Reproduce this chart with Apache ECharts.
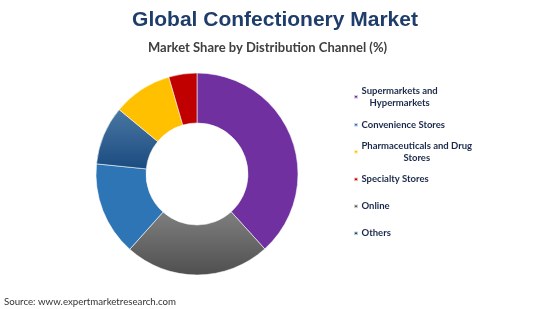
<!DOCTYPE html>
<html><head><meta charset="utf-8">
<script src="https://cdn.jsdelivr.net/npm/echarts@6/dist/echarts.min.js"></script>
<style>html,body{margin:0;padding:0;background:#fff}#c{width:550px;height:309px}</style>
</head><body><div id="c"></div>
<script>
// Slice order (clockwise from 12 o'clock)
const sliceNames = ['Supermarkets and Hypermarkets','Online','Convenience Stores','Others','Pharmaceuticals and Drug Stores','Specialty Stores'];
const sliceValues = [38.3, 23.3, 15.0, 9.4, 9.5, 4.5];
// Legend order
const legendNames = ['Supermarkets and Hypermarkets','Convenience Stores','Pharmaceuticals and Drug Stores','Specialty Stores','Online','Others'];
const legendLabels = {
  'Supermarkets and Hypermarkets': ['Supermarkets and','Hypermarkets'],
  'Convenience Stores': ['Convenience Stores'],
  'Pharmaceuticals and Drug Stores': ['Pharmaceuticals and Drug','Stores'],
  'Specialty Stores': ['Specialty Stores'],
  'Online': ['Online'],
  'Others': ['Others']
};
const titleText = 'Global Confectionery Market';
const subtitleText = 'Market Share by Distribution Channel (%)';
const sourceText = 'Source: www.expertmarketresearch.com';

function grad(top, bottom){
  return new echarts.graphic.LinearGradient(0,0,0,1,[{offset:0,color:top},{offset:1,color:bottom}]);
}
const colors = {
  'Supermarkets and Hypermarkets': '#7030a0',
  'Online': grad('#7f7f7f','#4f4f4f'),
  'Convenience Stores': '#2e75b6',
  'Others': grad('#4a77a3','#1a4b80'),
  'Pharmaceuticals and Drug Stores': '#ffc000',
  'Specialty Stores': '#c00000'
};
const legendSwatch = {
  'Supermarkets and Hypermarkets': '#7030a0',
  'Online': '#595959',
  'Convenience Stores': '#2e75b6',
  'Others': '#1f4e79',
  'Pharmaceuticals and Drug Stores': '#ffc000',
  'Specialty Stores': '#c00000'
};
const legendCenters = [98, 126, 153, 180.5, 207.5, 234.5];

const chart = echarts.init(document.getElementById('c'));
const legends = legendNames.map((n,i)=>{
  const lines = legendLabels[n];
  const h = lines.length * 12.3;
  return {
    left: 353, top: legendCenters[i] - h/2, orient:'vertical', padding:0,
    itemWidth: 4, itemHeight: 3.5, itemGap: 0, selectedMode:false,
    icon: 'rect',
    data: [{name:n, itemStyle:{color: legendSwatch[n]}}],
    formatter: ()=> lines.map(l=>'{c|'+l+'}').join('\n'),
    textStyle: {
      padding:[0,0,0,-1.5],
      rich: { c: { fontFamily:'Lato', fontWeight:'bold', fontSize:9.5, color:'#1b2a4a', lineHeight:12.3, align:'center' } }
    }
  };
});

chart.setOption({
  animation:false,
  title: [
    {text:titleText, left:'center', top:10, padding:[0,0,0,0], textStyle:{fontFamily:'Liberation Sans', fontWeight:'bold', fontSize:21, color:'#1f3d6b'}},
    {text:subtitleText, left:148, top:41, padding:0, textStyle:{fontFamily:'Lato', fontWeight:'bold', fontSize:13, color:'#404040'}},
    {text:sourceText, left:4, top:297, padding:0, textStyle:{fontFamily:'Lato', fontWeight:'normal', fontSize:9.7, color:'#333'}}
  ],
  legend: legends,
  series: [{
    type:'pie', center:[197,174], radius:[51,101], startAngle:90, clockwise:true,
    label:{show:false}, labelLine:{show:false},
    emphasis:{disabled:true},
    itemStyle:{borderColor:'rgba(255,255,255,0.7)', borderWidth:0.8},
    data: sliceNames.map((n,i)=>({name:n, value:sliceValues[i], itemStyle:{color:colors[n]}}))
  }]
});
</script></body></html>
